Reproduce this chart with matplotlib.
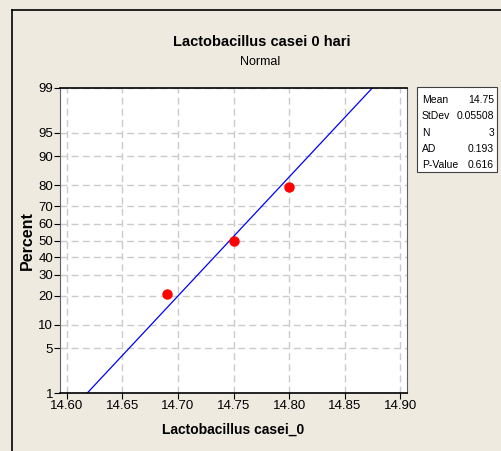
from statistics import NormalDist

import matplotlib
matplotlib.use("Agg")
import matplotlib.pyplot as plt
import numpy as np
from matplotlib.lines import Line2D
from matplotlib.patches import Rectangle

plt.rcParams["font.family"] = ["Liberation Sans", "DejaVu Sans"]

# observations and their median-rank plotting positions (%)
values = [14.69, 14.75, 14.80]
percents = [20.6, 50.0, 79.4]

x_ticks = [14.60, 14.65, 14.70, 14.75, 14.80, 14.85, 14.90]
y_ticks = [1, 5, 10, 20, 30, 40, 50, 60, 70, 80, 90, 95, 99]

stat_names = ["Mean", "StDev", "N", "AD", "P-Value"]
stat_values = ["14.75", "0.05508", "3", "0.193", "0.616"]

bg = "#EEEAE0"
nd = NormalDist()
_ppf = np.vectorize(nd.inv_cdf, otypes=[float])
_cdf = np.vectorize(nd.cdf, otypes=[float])


def to_z(p):
    p = np.clip(np.asarray(p, dtype=float) / 100.0, 1e-9, 1 - 1e-9)
    return _ppf(p)


def from_z(z):
    return _cdf(np.asarray(z, dtype=float)) * 100.0


fig = plt.figure(figsize=(5.01, 4.51), dpi=100, facecolor=bg)

# outer graph frame (left and top edges)
fig.add_artist(Line2D([12 / 501, 12 / 501], [0, 1 - 10 / 451], color="black", lw=1.2))
fig.add_artist(Line2D([12 / 501, 1], [1 - 10 / 451, 1 - 10 / 451], color="black", lw=1.2))

ax = fig.add_axes([60 / 501, 58 / 451, 347 / 501, 305 / 451])
ax.set_facecolor("white")
ax.set_yscale("function", functions=(to_z, from_z))
ax.set_xlim(14.594, 14.906)
ax.set_ylim(1, 99)

ax.set_xticks(x_ticks)
ax.set_xticklabels([f"{t:.2f}" for t in x_ticks])
ax.set_yticks(y_ticks)
ax.set_yticklabels([str(t) for t in y_ticks])
ax.yaxis.set_minor_locator(matplotlib.ticker.NullLocator())
ax.tick_params(direction="out", length=4, width=0.8, labelsize=9.5, pad=1)

ax.grid(True, color="#CBCBCB", linestyle=(0, (5, 3)), linewidth=1)
ax.set_axisbelow(True)

for side in ["left", "right"]:
    ax.spines[side].set_color("#606060")
    ax.spines[side].set_linewidth(0.8)
for side in ["top", "bottom"]:
    ax.spines[side].set_color("black")
    ax.spines[side].set_linewidth(1.2)

# fitted normal line
mean = np.mean(values)
sd = np.std(values, ddof=1)
p_line = np.array([0.5, 99.5])
ax.plot(mean + sd * to_z(p_line), p_line, color="#0000FF", lw=0.9)

ax.plot(values, percents, "o", color="#FF0000", markersize=6.5, zorder=5)

ax.set_xlabel("Lactobacillus casei_0", fontsize=10, fontweight="bold")
ax.xaxis.set_label_coords(0.5, -0.097)
ax.set_ylabel("Percent", fontsize=11.5, fontweight="bold")
ax.yaxis.set_label_coords(-0.072, 0.5)

fig.text(262 / 501, 1 - 42 / 451, "Lactobacillus casei 0 hari", ha="center", va="center",
         fontsize=10.5, fontweight="bold")
fig.text(260 / 501, 1 - 62 / 451, "Normal", ha="center", va="center", fontsize=9)

# summary statistics box
fig.add_artist(Rectangle((417 / 501, 1 - 172 / 451), 80 / 501, 85 / 451,
                         facecolor="white", edgecolor="#404040", lw=0.8))
for i, (name, val) in enumerate(zip(stat_names, stat_values)):
    y = 1 - (100 + i * 16.3) / 451
    fig.text(422 / 501, y, name, ha="left", va="center", fontsize=7.5)
    fig.text(494 / 501, y, val, ha="right", va="center", fontsize=7.5)

fig.savefig("out.png", dpi=100, facecolor=bg)
